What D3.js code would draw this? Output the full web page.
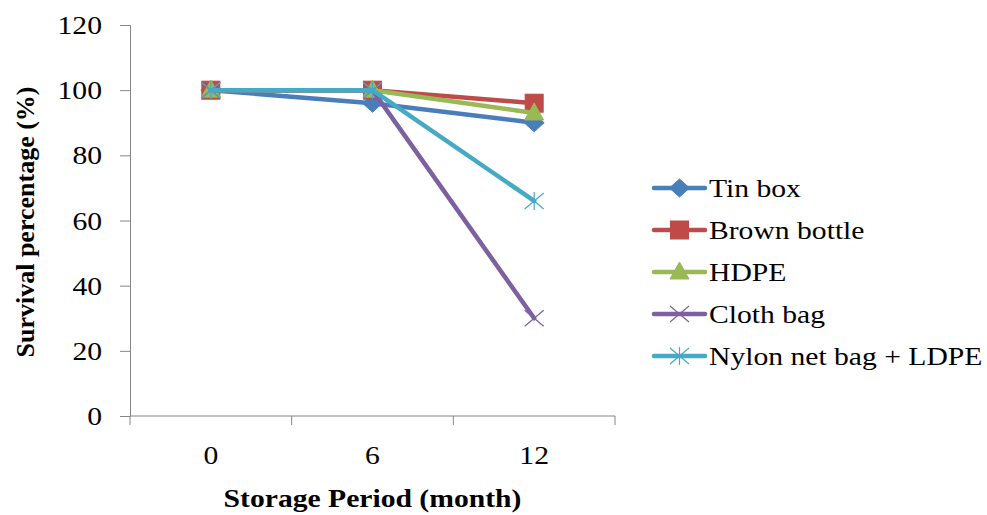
<!DOCTYPE html>
<html>
<head>
<meta charset="utf-8">
<script src="https://cdn.jsdelivr.net/npm/d3@7"></script>
<style>
  html, body { margin: 0; padding: 0; background: #fff; }
  svg { display: block; }
  svg text { font-family: "Liberation Serif", "Times New Roman", serif; fill: #000; }
</style>
</head>
<body>
<svg id="chart" width="987" height="515"></svg>
<script>
// Storage period (months) on the x axis
const periods = ["0", "6", "12"];
const yTicks = [0, 20, 40, 60, 80, 100, 120];

// Survival percentage per container type
const tinBox       = [100, 96, 90];
const brownBottle  = [100, 100, 96];
const hdpe         = [100, 100, 93];
const clothBag     = [100, 100, 30];
const nylonNetLdpe = [100, 100, 66];

const seriesNames  = ["Tin box", "Brown bottle", "HDPE", "Cloth bag", "Nylon net bag + LDPE"];
const seriesColors = ["#4A7EBB", "#BE4B48", "#98B954", "#7D60A0", "#46AAC5"];
const seriesShapes = ["diamond", "square", "triangle", "cross", "star"];

const series = [tinBox, brownBottle, hdpe, clothBag, nylonNetLdpe].map((values, i) => ({
  name: seriesNames[i], color: seriesColors[i], shape: seriesShapes[i], values
}));

const FONT = "'Liberation Serif', 'Times New Roman', serif";
const SIZE = "26px";
const WIDEN = 1.14; // slightly wide lettering

const svg = d3.select("#chart");
const plot = { left: 130, right: 615, top: 25, bottom: 416 };

const x = d3.scaleBand().domain(periods).range([plot.left, plot.right]);
const y = d3.scaleLinear().domain([0, 120]).range([plot.bottom, plot.top]);
const axisColor = "#868686";

// places a text label, widened horizontally about its anchor point
function label(parent, px, py, str, anchor, bold) {
  return parent.append("text")
    .attr("transform", `translate(${px},${py}) scale(${WIDEN},1)`)
    .attr("text-anchor", anchor)
    .style("font-family", FONT)
    .style("font-size", SIZE)
    .style("font-weight", bold ? "bold" : "normal")
    .attr("fill", "#000")
    .text(str);
}

// y axis
const yAxis = svg.append("g")
  .attr("transform", `translate(${plot.left},0)`)
  .call(d3.axisLeft(y).tickValues(yTicks).tickSize(10).tickFormat(""));
yAxis.select(".domain").attr("stroke", axisColor);
yAxis.selectAll(".tick line").attr("stroke", axisColor);
yTicks.forEach(t => label(svg, 102, y(t) + 9, String(t), "end", false));

// x axis: ticks sit on the category boundaries, labels at the centres
const xAxisG = svg.append("g").attr("transform", `translate(0,${plot.bottom})`);
xAxisG.append("line")
  .attr("x1", plot.left).attr("x2", plot.right)
  .attr("stroke", axisColor);
const boundaries = periods.map(p => x(p)).concat([x(periods[periods.length - 1]) + x.bandwidth()]);
xAxisG.selectAll("line.tk").data(boundaries).join("line")
  .attr("class", "tk")
  .attr("x1", d => d).attr("x2", d => d).attr("y1", 0).attr("y2", 9)
  .attr("stroke", axisColor);
periods.forEach(p => label(xAxisG, x(p) + x.bandwidth() / 2, 48, p, "middle", false));

// axis titles
label(svg, x(periods[1]) + x.bandwidth() / 2, 507, "Storage Period (month)", "middle", true);

svg.append("text")
  .attr("transform", "translate(34,222) rotate(-90)")
  .attr("text-anchor", "middle")
  .style("font-family", FONT)
  .style("font-size", SIZE).style("font-weight", "bold")
  .text("Survival percentage (%)");

// marker drawing
function drawMarker(g, shape, color) {
  switch (shape) {
    case "diamond":
      g.append("path").attr("d", "M0,-9L10,0L0,9L-10,0Z").attr("fill", color).attr("stroke", color).attr("stroke-width", 1);
      break;
    case "square":
      g.append("rect").attr("x", -9).attr("y", -9).attr("width", 18).attr("height", 18)
        .attr("fill", color).attr("stroke", color).attr("stroke-width", 1);
      break;
    case "triangle":
      g.append("path").attr("d", "M0,-10L9.5,7L-9.5,7Z").attr("fill", color).attr("stroke", color).attr("stroke-width", 1);
      break;
    case "cross":
      g.append("path").attr("d", "M-9.5,-8L9.5,8M-9.5,8L9.5,-8").attr("stroke", color).attr("stroke-width", 1.2).attr("fill", "none");
      break;
    case "star":
      g.append("path").attr("d", "M-9.5,-8L9.5,8M-9.5,8L9.5,-8M0,-9L0,9").attr("stroke", color).attr("stroke-width", 1.2).attr("fill", "none");
      break;
  }
}

const line = d3.line()
  .x((d, i) => x(periods[i]) + x.bandwidth() / 2)
  .y(d => y(d));

series.forEach(s => {
  const g = svg.append("g");
  g.append("path")
    .attr("d", line(s.values))
    .attr("fill", "none")
    .attr("stroke", s.color)
    .attr("stroke-width", 4.5)
    .attr("stroke-linejoin", "round")
    .attr("stroke-linecap", "round");
  s.values.forEach((v, i) => {
    const m = g.append("g")
      .attr("transform", `translate(${x(periods[i]) + x.bandwidth() / 2},${y(v)})`);
    drawMarker(m, s.shape, s.color);
  });
});

// legend
const legendRows = [188, 230, 272, 314, 356];
const legend = svg.append("g").attr("transform", "translate(654,0)");
series.forEach((s, i) => {
  const row = legend.append("g").attr("transform", `translate(0,${legendRows[i]})`);
  row.append("line")
    .attr("x1", 0).attr("x2", 51).attr("y1", 0).attr("y2", 0)
    .attr("stroke", s.color).attr("stroke-width", 4.5).attr("stroke-linecap", "round");
  const m = row.append("g").attr("transform", "translate(25.5,0)");
  drawMarker(m, s.shape, s.color);
  label(row, 55, 9, s.name, "start", false);
});
</script>
</body>
</html>
